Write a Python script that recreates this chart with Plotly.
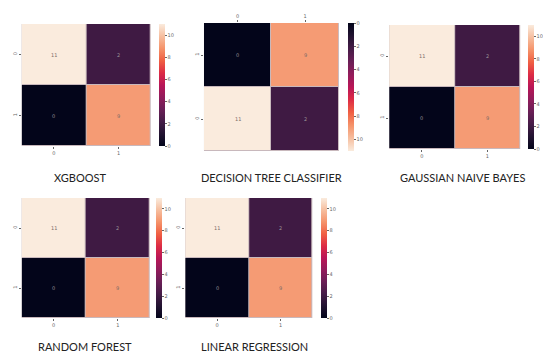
import plotly.graph_objects as go

W, H = 543, 354

# confusion matrices (rows = actual, cols = predicted)
labels = ["0", "1"]
xgboost_cm = [[11, 2], [0, 9]]
decision_tree_cm = [[11, 2], [0, 9]]
gaussian_nb_cm = [[11, 2], [0, 9]]
random_forest_cm = [[11, 2], [0, 9]]
linear_regression_cm = [[11, 2], [0, 9]]
titles = ["XGBOOST", "DECISION TREE CLASSIFIER", "GAUSSIAN NAIVE BAYES",
          "RANDOM FOREST", "LINEAR REGRESSION"]
colorbar_ticks = [0, 2, 4, 6, 8, 10]
z_max = 11

# seaborn "rocket" colormap
rocket = [
    [0.00, "#03051a"], [0.10, "#221331"], [0.20, "#451c47"], [0.30, "#6a1f56"],
    [0.40, "#921c5b"], [0.50, "#b91657"], [0.60, "#dd2c45"], [0.70, "#f06043"],
    [0.80, "#f5936a"], [0.90, "#f6be9f"], [1.00, "#faebdd"],
]
rocket_rev = [[round(1 - p, 2), c] for p, c in reversed(rocket)]

# panel geometry in pixels: heatmap box (x0, x1, y0, y1) and colorbar (x, width)
panels = [
    dict(cm=xgboost_cm, box=(22, 153, 24, 146), cb=(161, 6), title=(82, 177), flipped=False),
    dict(cm=decision_tree_cm, box=(207, 344, 23, 151), cb=(353, 6), title=(276, 177), flipped=True),
    dict(cm=gaussian_nb_cm, box=(395, 528, 25, 149), cb=(536, 6), title=(469, 177), flipped=False),
    dict(cm=random_forest_cm, box=(22, 152, 198, 318), cb=(158, 6), title=(86, 346), flipped=False),
    dict(cm=linear_regression_cm, box=(188, 317, 198, 318), cb=(326, 6), title=(258, 346), flipped=False),
]

tick_font = dict(family="DejaVu Sans", size=5, color="#666")
fig = go.Figure()
annotations = []
layout_axes = {}

for i, (p, title) in enumerate(zip(panels, titles), start=1):
    x0, x1, y0, y1 = p["box"]
    cbx, cbw = p["cb"]
    xa = "x" if i == 1 else f"x{i}"
    ya = "y" if i == 1 else f"y{i}"
    cm = p["cm"]

    if p["flipped"]:
        # mirrored layout: colour axis runs 0 at top to 11 at bottom
        z = [[-v for v in row] for row in cm]
        zmin, zmax, scale = -z_max, 0, rocket_rev
        cbar = dict(tickvals=[-t for t in colorbar_ticks],
                    ticktext=[str(t) for t in colorbar_ticks])
    else:
        z = cm
        zmin, zmax, scale = 0, z_max, rocket
        cbar = dict(tickvals=colorbar_ticks)

    fig.add_trace(go.Heatmap(
        z=z, x=labels, y=labels, xaxis=xa, yaxis=ya,
        zmin=zmin, zmax=zmax, colorscale=scale,
        xgap=1, ygap=1, hoverinfo="skip",
        colorbar=dict(
            x=cbx / W, xanchor="left", thickness=cbw, thicknessmode="pixels",
            y=1 - y0 / H, yanchor="top", len=(y1 - y0) / H, lenmode="fraction",
            outlinewidth=0, ticks="outside", ticklen=2, tickwidth=0.6,
            tickcolor="#666", tickfont=tick_font, xpad=0, ypad=0, **cbar,
        ),
    ))

    layout_axes["xaxis" if i == 1 else f"xaxis{i}"] = dict(
        domain=[x0 / W, x1 / W], anchor=ya, side="top" if p["flipped"] else "bottom",
        ticks="outside", ticklen=2, tickwidth=0.6, tickcolor="#666",
        tickfont=tick_font, showgrid=False, zeroline=False, showline=False,
        type="category",
    )
    layout_axes["yaxis" if i == 1 else f"yaxis{i}"] = dict(
        domain=[1 - y1 / H, 1 - y0 / H], anchor=xa,
        autorange=True if p["flipped"] else "reversed",
        ticks="outside", ticklen=2, tickwidth=0.6, tickcolor="#666",
        tickfont=tick_font, tickangle=-90, showgrid=False, zeroline=False,
        showline=False, type="category",
    )

    for r, row in enumerate(cm):
        for c, v in enumerate(row):
            annotations.append(dict(
                x=labels[c], y=labels[r], xref=xa, yref=ya, text=str(v),
                showarrow=False,
                font=dict(family="DejaVu Sans", size=5,
                          color="#7a6a66" if v > z_max / 2 else "#9a9096"),
            ))

    tx, ty = p["title"]
    annotations.append(dict(
        x=tx / W, y=1 - ty / H, xref="paper", yref="paper", text=title,
        showarrow=False, xanchor="center", yanchor="middle",
        font=dict(family="Lato", size=11, color="#222"),
    ))

fig.update_layout(
    width=W, height=H, margin=dict(l=0, r=0, t=0, b=0),
    paper_bgcolor="white", plot_bgcolor="#c8b8bc",
    showlegend=False, annotations=annotations, **layout_axes,
)

fig.write_html("out.html")
